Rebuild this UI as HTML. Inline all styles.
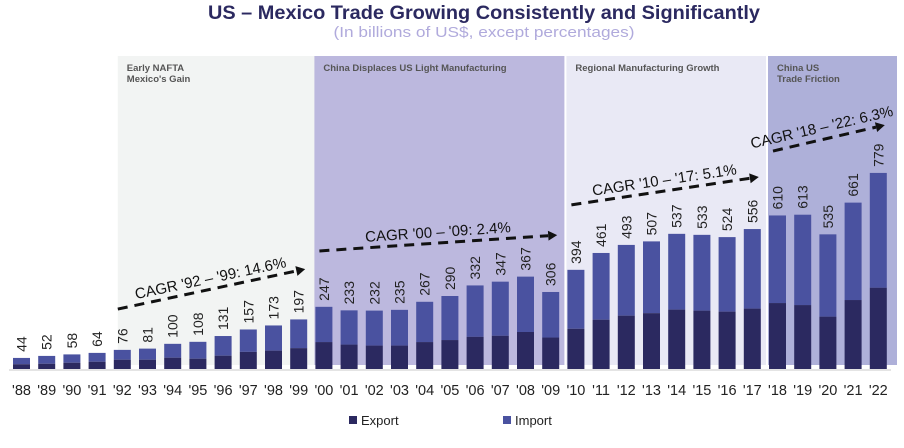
<!DOCTYPE html>
<html><head><meta charset="utf-8">
<style>
html,body{margin:0;padding:0;background:#fff;}
svg{display:block;font-family:"Liberation Sans",sans-serif;}
</style></head>
<body>
<svg id="chart" width="904" height="448" viewBox="0 0 904 448" xmlns="http://www.w3.org/2000/svg">
<text x="484" y="19" text-anchor="middle" font-size="19" font-weight="bold" fill="#2b2960" textLength="552" lengthAdjust="spacingAndGlyphs">US – Mexico Trade Growing Consistently and Significantly</text>
<text x="484" y="37" text-anchor="middle" font-size="15" fill="#b0aadc" textLength="301" lengthAdjust="spacingAndGlyphs">(In billions of US$, except percentages)</text>
<g id="regions"></g>
<g id="bars"></g>
<g id="labels"></g>
<g id="ticks"></g>
<g id="cagr"></g>
<g>
<rect x="349" y="416" width="8" height="8" fill="#2b2960"/>
<text x="361" y="425" font-size="13" fill="#222">Export</text>
<rect x="503" y="416" width="8" height="8" fill="#4a52a0"/>
<text x="515" y="425" font-size="13" fill="#222">Import</text>
</g>
</svg>
<script>
const years = ["'88","'89","'90","'91","'92","'93","'94","'95","'96","'97","'98","'99","'00","'01","'02","'03","'04","'05","'06","'07","'08","'09","'10","'11","'12","'13","'14","'15","'16","'17","'18","'19","'20","'21","'22"];
const totals = [44,52,58,64,76,81,100,108,131,157,173,197,247,233,232,235,267,290,332,347,367,306,394,461,493,507,537,533,524,556,610,613,535,661,779];
const exports = [19,21,25,29,37,37,45,41,53,68,73,83,107,97,93,93,107,115,128,132,147,125,160,196,212,222,236,232,228,240,262,254,208,274,323];
const regionNames = ["Early NAFTA|Mexico's Gain","China Displaces US Light Manufacturing","Regional Manufacturing Growth","China US|Trade  Friction"];
const regionStart = [4,12,22,30];
const regionEnd = [11,21,29,34];
const regionColors = ["#f2f4f3","#bcb8de","#e9e9f5","#aeb0d9"];
const cagrLabels = ["CAGR '92 – '99: 14.6%","CAGR '00 – '09: 2.4%","CAGR '10 – '17: 5.1%","CAGR '18 – '22: 6.3%"];
const cagrStartIdx = [4,12,22,30];
const cagrEndIdx = [11,21,29,34];
const cagrStartVal = [238,469,652,866];
const cagrEndVal = [397,532,763,969];

const NS="http://www.w3.org/2000/svg";
const baseY=369, k=0.2517, x0=13, pitch=25.2, bw=17;
const xs=i=>x0+i*pitch;
const ys=v=>baseY-v*k;
function mk(tag,attrs,parent){const e=document.createElementNS(NS,tag);for(const a in attrs)e.setAttribute(a,attrs[a]);parent.appendChild(e);return e;}

const gR=document.getElementById('regions');
regionNames.forEach((n,r)=>{
  const xa=xs(regionStart[r])+(r===0?4:-1);
  const xb=(r<regionNames.length-1)?xs(regionStart[r+1])-(r===0?0:3):897;
  const rect=mk('rect',{x:xa,y:56,width:xb-xa,height:309,fill:regionColors[r]},gR);
  
  
  n.split('|').forEach((line,j)=>{
    const t=mk('text',{x:xa+9,y:71+j*11,'font-size':9.5,'font-weight':'bold',fill:'#555'},gR);
    t.textContent=line;
    
    
  });
});
const axis=mk('line',{x1:9,x2:891,y1:baseY+1,y2:baseY+1,stroke:'#e4e4e4','stroke-width':2},gR);



const gB=document.getElementById('bars'), gL=document.getElementById('labels'), gT=document.getElementById('ticks');
years.forEach((y,i)=>{
  const x=xs(i);
  const imp=mk('rect',{x:x,y:ys(totals[i]),width:bw,height:(totals[i]-exports[i])*k,fill:'#4a52a0'},gB);
  
  
  const ex=mk('rect',{x:x,y:ys(exports[i]),width:bw,height:exports[i]*k,fill:'#2b2960'},gB);
  
  
  const cx=x+bw/2+5, cy=ys(totals[i])-6;
  const t=mk('text',{x:cx,y:cy,'font-size':14,fill:'#222',transform:`rotate(-90 ${cx} ${cy})`},gL);
  t.textContent=totals[i];
  
  
  const tk=mk('text',{x:x+bw/2,y:395,'font-size':14.5,fill:'#222','text-anchor':'middle'},gT);
  tk.textContent=y;
  
  
});

const gC=document.getElementById('cagr');
cagrLabels.forEach((lab,c)=>{
  const xa=xs(cagrStartIdx[c])+4, xb=xs(cagrEndIdx[c])+bw-2;
  const ya=ys(cagrStartVal[c]), yb=ys(cagrEndVal[c]);
  const ang=Math.atan2(yb-ya,xb-xa);
  const hx=xb-9*Math.cos(ang), hy=yb-9*Math.sin(ang);
  const l=mk('line',{x1:xa,y1:ya,x2:hx,y2:hy,stroke:'#111','stroke-width':3,'stroke-dasharray':'10 7'},gC);
  
  
  const px=-Math.sin(ang), py=Math.cos(ang);
  const p=mk('polygon',{points:`${xb},${yb} ${hx+5*px},${hy+5*py} ${hx-5*px},${hy-5*py}`,fill:'#111'},gC);
  
  
  const mx=(xa+xb)/2+(c===3?-6:0), my=(ya+yb)/2-6, deg=ang*180/Math.PI;
  const t=mk('text',{x:mx,y:my,'font-size':15,fill:'#111','text-anchor':'middle',transform:`rotate(${deg} ${mx} ${my})`},gC);
  t.textContent=lab;
  
  
});
</script>
</body></html>
